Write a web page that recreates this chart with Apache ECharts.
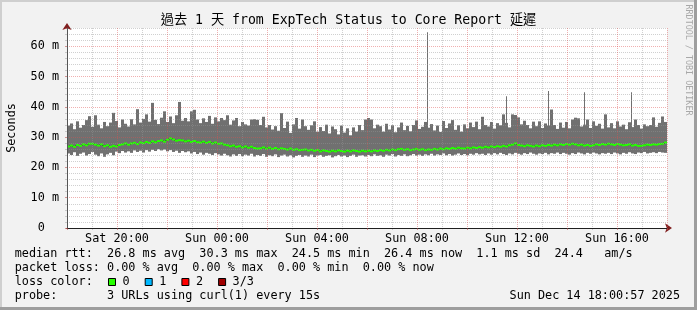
<!DOCTYPE html>
<html><head><meta charset="utf-8">
<script src="https://cdn.jsdelivr.net/npm/echarts@6/dist/echarts.min.js"></script>
<style>html,body{margin:0;padding:0;background:#f2f2f2}#c{width:697px;height:310px}</style>
</head><body><div id="c"></div>
<script>
// ---- data (hours since Sat 18:00, values in ms) ----
const titleText = '過去 1 天 from ExpTech Status to Core Report 延遲';
const STEP = 0.12; // hours per smoke column
const hi = [
33.8,34.5,32.6,35.2,33.1,34.0,35.6,36.9,33.4,37.2,34.1,32.9,35.0,33.6,34.8,38.0,35.3,33.2,35.8,34.4,
33.5,35.9,34.2,39.2,34.8,36.0,37.5,35.1,41.3,35.7,34.3,36.4,38.5,35.0,36.8,34.6,37.2,41.6,35.4,36.3,
35.2,38.5,39.0,35.8,34.6,36.2,35.0,37.0,34.4,36.5,35.2,36.3,35.6,37.2,34.1,35.5,36.3,33.6,35.0,34.2,
33.8,35.8,35.9,35.7,34.0,36.7,33.2,34.0,32.5,33.6,32.1,37.9,33.0,35.1,31.4,34.2,36.3,32.8,35.8,33.6,
32.4,33.9,35.2,31.8,33.3,32.0,34.1,31.2,33.5,32.6,30.9,33.8,31.5,32.9,30.6,33.2,31.8,34.0,32.3,35.8,
36.3,35.8,32.9,34.1,33.6,31.8,34.4,32.5,33.9,31.6,33.2,34.8,32.3,33.7,31.9,34.0,35.5,32.7,33.4,35.0,
33.1,34.3,32.2,33.8,31.7,35.3,33.0,34.5,35.6,32.4,33.9,31.8,34.2,32.9,34.8,33.3,35.1,32.6,36.7,34.0,
33.5,35.0,32.8,34.6,33.9,37.5,34.7,33.2,37.5,37.3,36.5,34.2,35.4,34.0,32.9,35.1,33.6,35.2,33.0,34.5,
33.8,39.1,34.0,32.7,34.8,33.1,35.0,32.9,35.8,36.4,36.2,33.5,34.1,35.8,33.0,35.2,33.7,34.4,32.8,37.5,
33.2,34.6,32.9,35.2,33.5,34.1,32.6,34.9,33.3,35.8,34.0,32.8,34.2,33.6,34.0,36.5,33.4,34.7,36.8,35.0
];
const lo = [
24.6,24.1,25.0,23.8,24.5,24.9,23.9,24.4,25.1,24.2,23.7,24.6,23.5,24.3,24.8,24.0,25.2,24.7,25.4,24.9,
25.3,24.8,25.6,25.1,25.5,24.9,25.7,25.2,25.8,25.4,26.0,25.6,25.9,25.3,25.7,25.1,25.5,24.8,25.4,25.0,
25.3,24.6,25.1,24.4,24.9,24.2,24.8,24.5,24.1,24.7,24.3,23.9,24.5,24.0,23.6,24.3,23.8,24.4,23.7,24.2,
23.9,24.5,23.6,24.1,23.8,24.4,23.5,24.0,23.7,24.3,23.4,23.9,24.2,23.6,24.0,23.3,23.8,24.1,23.5,23.9,
23.6,24.2,23.4,23.9,24.1,23.5,23.8,24.0,23.3,23.7,24.1,23.6,23.9,23.4,23.8,24.2,23.5,23.9,24.0,23.6,
24.1,23.7,24.3,23.8,24.0,23.5,24.2,23.9,24.4,23.6,24.1,23.8,24.3,23.7,24.0,24.4,23.9,24.2,23.8,24.3,
24.0,24.5,23.9,24.3,24.1,24.6,24.0,24.4,23.9,24.2,24.6,24.1,24.4,24.0,24.5,24.2,24.7,24.3,24.5,24.1,
24.6,24.2,24.7,24.3,24.8,24.4,24.1,24.6,24.3,24.8,24.5,24.2,24.7,24.4,24.9,24.5,24.2,24.6,24.4,24.8,
24.3,24.7,24.5,24.9,24.4,24.8,24.5,24.2,24.7,24.4,24.9,24.6,24.3,24.8,24.5,24.9,24.6,24.3,24.7,24.5,
24.8,24.4,24.9,24.6,24.3,24.8,24.5,25.0,24.6,24.4,24.9,24.7,25.1,24.6,24.8,25.0,24.7,25.1,24.9,24.8
];
const median = [
26.9,27.2,26.8,27.4,27.1,27.6,27.3,27.8,27.8,27.5,27.2,27.6,27.0,27.3,26.8,27.1,26.9,27.4,27.6,27.9,
27.5,27.9,28.1,27.7,28.2,28.0,28.4,28.1,28.6,28.3,28.7,28.9,28.5,29.1,29.6,29.2,28.8,29.0,28.9,28.6,
28.8,28.4,28.7,28.3,28.2,28.5,28.1,28.4,27.9,28.2,27.8,27.9,27.5,27.3,27.0,27.2,26.8,27.0,26.6,26.9,
26.5,26.8,26.4,26.2,26.3,26.6,26.2,26.5,26.1,26.4,26.0,26.3,26.1,25.9,26.2,25.8,26.0,25.7,25.8,25.9,
25.6,25.8,25.5,25.7,25.3,25.6,25.4,25.2,25.5,25.3,25.6,25.4,25.2,25.5,25.3,25.6,25.4,25.2,25.5,25.3,
25.5,25.3,25.6,25.4,25.7,25.5,25.8,25.6,25.9,25.7,26.0,26.1,25.8,26.0,25.7,25.9,26.1,25.8,26.0,25.7,
25.9,25.8,26.1,25.9,26.2,26.0,26.3,26.1,26.4,26.2,26.5,26.3,26.2,26.5,26.3,26.6,26.4,26.7,26.5,26.8,
26.6,26.9,26.7,27.0,26.8,27.1,26.9,27.3,27.5,27.9,27.4,27.2,27.0,27.3,27.1,26.9,27.2,27.0,27.3,27.1,
27.4,27.2,27.5,27.3,27.6,27.4,27.7,27.5,27.8,27.6,27.3,27.5,27.2,27.4,27.1,27.3,27.6,27.4,27.7,27.5,
27.8,27.6,27.4,27.7,27.5,27.3,27.4,27.6,27.2,27.4,27.1,27.1,27.3,27.5,27.4,27.6,27.5,27.7,27.8,28.2
];
const spikeHours = [14.39, 17.55, 19.23, 20.69, 22.55];
const spikeValues = [64.6, 43.5, 45.2, 44.8, 44.8];
const xTickHours = [2, 6, 10, 14, 18, 22];
const xTickLabels = ['Sat 20:00', 'Sun 00:00', 'Sun 04:00', 'Sun 08:00', 'Sun 12:00', 'Sun 16:00'];
const yTickValues = [0, 10, 20, 30, 40, 50, 60];
const yTickLabels = ['0  ', '10 m', '20 m', '30 m', '40 m', '50 m', '60 m'];
const rttStats = ['26.8', '30.3', '24.5', '26.4', '1.1', '24.4'];
const lossStats = ['0.00', '0.00', '0.00', '0.00'];
const lossNames = ['0', '1', '2', '3/3'];
const lossColors = ['#26ff00', '#00b8ff', '#ff0000', '#a00000'];
const probeText = '3 URLs using curl(1) every 15s';
const stampText = 'Sun Dec 14 18:00:57 2025';

// ---- rendering ----
const MONO = "'DejaVu Sans Mono', 'Noto Sans CJK TC', monospace";
const FS = 11.8;
const GRID_MINOR = 'rgba(150,150,150,0.45)';
const GRID_MAJOR = 'rgba(222,79,79,0.45)';
const NONE = 'rgba(0,0,0,0)';
const SMOKE = '#707070';

const chart = echarts.init(document.getElementById('c'), null, {renderer: 'canvas', width: 697, height: 310});

const smokeData = hi.map((h, i) => [i * STEP, (i + 1) * STEP, lo[i], h]);
const medData = median.map((m, i) => [i * STEP, (i + 1) * STEP, m]);
const medLine = median.map((m, i) => [(i + 0.5) * STEP, m]);
const spikeData = spikeHours.map((h, k) => [h, spikeValues[k]]);

function smokeItem(params, api) {
  const a = api.coord([api.value(0), api.value(3)]);
  const b = api.coord([api.value(1), api.value(2)]);
  const x0 = Math.round(a[0]), x1 = Math.round(b[0]);
  return {type: 'rect', shape: {x: x0, y: a[1], width: x1 - x0, height: b[1] - a[1]}, style: {fill: SMOKE}};
}
function spikeItem(params, api) {
  const a = api.coord([api.value(0), api.value(1)]);
  const b = api.coord([api.value(0), 30]);
  const x0 = Math.round(a[0]);
  return {type: 'rect', shape: {x: x0, y: a[1], width: 1, height: b[1] - a[1]}, style: {fill: SMOKE}};
}
function medItem(params, api) {
  const a = api.coord([api.value(0), api.value(2)]);
  const b = api.coord([api.value(1), api.value(2)]);
  const x0 = Math.round(a[0]), x1 = Math.round(b[0]);
  return {type: 'rect', shape: {x: x0, y: a[1] - 1, width: x1 - x0, height: 2}, style: {fill: lossColors[0]}};
}

const line1 = 'median rtt:  ' + rttStats[0] + ' ms avg  ' + rttStats[1] + ' ms max  ' + rttStats[2] +
  ' ms min  ' + rttStats[3] + ' ms now  ' + rttStats[4] + ' ms sd  ' + rttStats[5] + '   am/s';
const line2 = 'packet loss: ' + lossStats[0] + ' % avg  ' + lossStats[1] + ' % max  ' + lossStats[2] +
  ' % min  ' + lossStats[3] + ' % now';
const line4 = 'probe:       ' + probeText;

const txt = (text, x, y, extra) => Object.assign({
  type: 'text', x: x, y: y, silent: true,
  style: Object.assign({text: text, font: FS + 'px ' + MONO, fill: '#000', align: 'left', verticalAlign: 'middle'}, extra || {})
});

const graphics = [
  {type: 'rect', shape: {x: 0, y: 0, width: 697, height: 2}, style: {fill: '#cfcfcf'}},
  {type: 'rect', shape: {x: 0, y: 0, width: 2, height: 310}, style: {fill: '#cfcfcf'}},
  {type: 'rect', shape: {x: 0, y: 307, width: 697, height: 3}, style: {fill: '#9e9e9e'}},
  {type: 'rect', shape: {x: 694, y: 0, width: 3, height: 310}, style: {fill: '#9e9e9e'}},
  txt(titleText, 348.5, 21, {align: 'center', font: '13.2px ' + MONO}),
  {type: 'text', x: 688, y: 60, rotation: -Math.PI / 2, silent: true,
    style: {text: 'RRDTOOL / TOBI OETIKER', font: '8.4px ' + MONO, fill: '#a8a8a8', align: 'center', verticalAlign: 'middle'}},
  txt(line1, 14.7, 254),
  txt(line2, 14.7, 268),
  txt('loss color:', 14.7, 282),
  txt(line4, 14.7, 296),
  txt(stampText, 680, 296, {align: 'right'})
];
const boxX = [108.5, 145.2, 181.9, 218.6];
lossNames.forEach((n, k) => {
  graphics.push({type: 'rect', shape: {x: boxX[k], y: 278.5, width: 7, height: 7},
    style: {fill: lossColors[k], stroke: '#000', lineWidth: 1}});
  graphics.push(txt(n, boxX[k] + 14, 282));
});

// minor grid colour lists: skip positions where a major line is drawn
const xMinorColors = [NONE, GRID_MINOR];
const yMinorColors = [NONE, GRID_MINOR, GRID_MINOR, GRID_MINOR, GRID_MINOR];
const yMajorColors = [GRID_MAJOR, GRID_MAJOR, GRID_MAJOR, GRID_MAJOR, GRID_MAJOR, GRID_MAJOR, GRID_MAJOR, NONE];

chart.setOption({
  animation: false,
  backgroundColor: '#f2f2f2',
  grid: {left: 67, top: 28, width: 600, height: 200, show: true, backgroundColor: '#ffffff', borderWidth: 0,
    containLabel: false, outerBoundsMode: 'none'},
  xAxis: [
    {type: 'value', min: 0, max: 24, interval: 1, position: 'bottom', z: 4,
      axisLine: {show: false}, axisLabel: {show: false},
      axisTick: {show: true, length: 2, lineStyle: {color: GRID_MINOR}},
      splitLine: {show: true, lineStyle: {color: xMinorColors, type: [1, 1], width: 1}}},
    {type: 'value', min: 0, max: 24, interval: 2, position: 'bottom', z: 5,
      axisLine: {show: true, symbol: ['none', 'arrow'], symbolSize: [7, 7], symbolOffset: [0, 5], lineStyle: {color: '#801f1f', width: 1}},
      axisLabel: {show: false}, axisTick: {show: false}, splitLine: {show: false}},
    {type: 'value', min: 0, max: 24, interval: 2, position: 'bottom', z: 6,
      axisLine: {show: true, lineStyle: {color: '#1f1f1f', width: 1}},
      axisTick: {show: true, length: 2, lineStyle: {color: GRID_MAJOR}},
      axisLabel: {show: true, margin: 5, fontFamily: MONO, fontSize: FS, color: '#000',
        formatter: v => { const k = xTickHours.indexOf(v); return k >= 0 ? xTickLabels[k] : ''; }},
      splitLine: {show: true, lineStyle: {color: GRID_MAJOR, type: [1, 1], width: 1}}}
  ],
  yAxis: [
    {type: 'value', min: 0, max: 66, interval: 2, position: 'left', z: 4,
      axisLine: {show: false}, axisLabel: {show: false},
      axisTick: {show: true, length: 2, lineStyle: {color: GRID_MINOR}},
      splitLine: {show: true, lineStyle: {color: yMinorColors, type: [1, 1], width: 1}}},
    {type: 'value', min: 0, max: 66, interval: 10, position: 'left', z: 5,
      axisLine: {show: true, symbol: ['none', 'arrow'], symbolSize: [7, 7], symbolOffset: [0, 5], lineStyle: {color: '#801f1f', width: 1}},
      axisLabel: {show: false}, axisTick: {show: false}, splitLine: {show: false}},
    {type: 'value', min: 0, max: 66, interval: 10, position: 'left', z: 6,
      name: 'Seconds', nameLocation: 'middle', nameRotate: 90, nameGap: 49,
      nameTextStyle: {fontFamily: MONO, fontSize: FS, color: '#000'},
      axisLine: {show: true, lineStyle: {color: '#555555', width: 1}},
      axisTick: {show: true, length: 2, lineStyle: {color: GRID_MAJOR}},
      axisLabel: {show: true, margin: 8, fontFamily: MONO, fontSize: FS, color: '#000', showMaxLabel: true,
        formatter: v => { const k = yTickValues.indexOf(v); return k >= 0 ? yTickLabels[k] : ''; }},
      splitLine: {show: true, lineStyle: {color: yMajorColors, type: [1, 1], width: 1}}}
  ],
  series: [
    {type: 'custom', name: 'smoke', xAxisIndex: 0, yAxisIndex: 0, z: 1, renderItem: smokeItem,
      encode: {x: [0, 1], y: [2, 3]}, data: smokeData, silent: true},
    {type: 'custom', name: 'spikes', xAxisIndex: 0, yAxisIndex: 0, z: 1, renderItem: spikeItem,
      encode: {x: 0, y: 1}, data: spikeData, silent: true},
    {type: 'line', name: 'median-edge', xAxisIndex: 0, yAxisIndex: 0, z: 2, step: 'middle', showSymbol: false,
      lineStyle: {color: '#000', width: 1}, data: medLine, silent: true},
    {type: 'custom', name: 'median', xAxisIndex: 0, yAxisIndex: 0, z: 3, renderItem: medItem,
      encode: {x: [0, 1], y: 2}, data: medData, silent: true}
  ],
  graphic: graphics
});
</script>
</body></html>
